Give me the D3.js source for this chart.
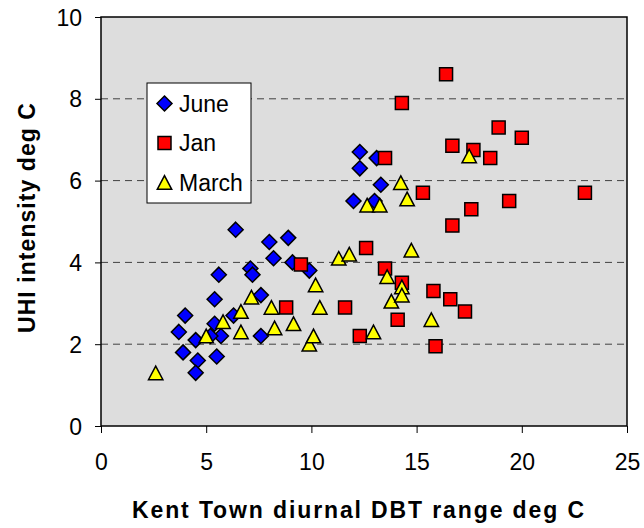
<!DOCTYPE html>
<html>
<head>
<meta charset="utf-8">
<script src="https://cdn.jsdelivr.net/npm/d3@7"></script>
<style>
  body { margin: 0; background: #fff; }
  text { font-family: "Liberation Sans", Arial, sans-serif; }
</style>
</head>
<body>
<div id="chart"></div>
<script>
// values
const juneX = [4.0, 3.7, 3.9, 4.5, 4.6, 4.5, 5.4, 5.6, 5.4, 5.5, 5.7, 5.2, 6.3, 6.4, 7.1, 7.2, 7.6, 7.6, 8.0, 8.2, 8.9, 9.1, 9.9, 12.3, 12.3, 12.0, 13.3, 13.0, 13.1];
const juneY = [2.7, 2.3, 1.8, 2.1, 1.6, 1.3, 3.1, 3.7, 2.5, 1.7, 2.2, 2.2, 2.7, 4.8, 3.85, 3.7, 3.2, 2.2, 4.5, 4.1, 4.6, 4.0, 3.8, 6.7, 6.3, 5.5, 5.9, 5.5, 6.55];

const janX = [16.4, 14.3, 18.9, 20.0, 16.7, 17.7, 18.5, 13.5, 15.3, 23.0, 19.4, 17.6, 16.7, 12.6, 9.5, 13.5, 14.3, 15.8, 16.6, 8.8, 11.6, 17.3, 14.1, 12.3, 15.9];
const janY = [8.6, 7.9, 7.3, 7.05, 6.85, 6.75, 6.55, 6.55, 5.7, 5.7, 5.5, 5.3, 4.9, 4.35, 3.95, 3.85, 3.5, 3.3, 3.1, 2.9, 2.9, 2.8, 2.6, 2.2, 1.95];

const marchX = [2.6, 5.0, 5.8, 6.65, 6.65, 7.15, 8.1, 8.25, 9.15, 9.9, 10.1, 10.2, 10.4, 11.3, 11.8, 12.65, 13.25, 12.95, 13.6, 13.8, 14.3, 14.3, 14.25, 14.55, 14.75, 15.7, 17.5];
const marchY = [1.3, 2.2, 2.55, 2.8, 2.3, 3.15, 2.9, 2.4, 2.5, 2.0, 2.2, 3.45, 2.9, 4.1, 4.2, 5.4, 5.4, 2.3, 3.65, 3.05, 3.4, 3.2, 5.95, 5.55, 4.3, 2.6, 6.6];

const seriesNames = ["June", "Jan", "March"];
const xTicks = [0, 5, 10, 15, 20, 25];
const yTicks = [0, 2, 4, 6, 8, 10];

// marker shapes drawn about their box centre, like the spreadsheet ones
const diamond = { draw(ctx) { const r = 7.5; ctx.moveTo(0, -r); ctx.lineTo(r, 0); ctx.lineTo(0, r); ctx.lineTo(-r, 0); ctx.closePath(); } };
const square = { draw(ctx) { const r = 6.5; ctx.rect(-r, -r, 2 * r, 2 * r); } };
const triangle = { draw(ctx) { const w = 7.2, h = 6.8; ctx.moveTo(0, -h); ctx.lineTo(w, h); ctx.lineTo(-w, h); ctx.closePath(); } };

const series = [
  { name: seriesNames[0], xs: juneX, ys: juneY, fill: "#0000ff", symbol: diamond },
  { name: seriesNames[1], xs: janX, ys: janY, fill: "#ff0000", symbol: square },
  { name: seriesNames[2], xs: marchX, ys: marchY, fill: "#ffff00", symbol: triangle }
];

const margin = { top: 17, right: 17, bottom: 102, left: 101 },
    width = 644 - margin.left - margin.right,
    height = 528 - margin.top - margin.bottom;

const svg = d3.select("#chart").append("svg")
    .attr("width", 644)
    .attr("height", 528);

const g = svg.append("g")
    .attr("transform", `translate(${margin.left},${margin.top})`);

const x = d3.scaleLinear().domain([0, 25]).range([0, width]);
const y = d3.scaleLinear().domain([0, 10]).range([height, 0]);

g.append("rect")
    .attr("width", width)
    .attr("height", height)
    .attr("fill", "#dddddd");

// dashed gridlines
g.selectAll(".grid")
    .data(yTicks.filter(d => d > 0 && d < 10))
    .enter().append("line")
    .attr("x1", 0)
    .attr("x2", width)
    .attr("y1", d => y(d))
    .attr("y2", d => y(d))
    .attr("stroke", "#404040")
    .attr("stroke-width", 1)
    .attr("stroke-dasharray", "7,5");

const xAxis = g.append("g")
    .attr("transform", `translate(0,${height})`)
    .call(d3.axisBottom(x).tickValues(xTicks).tickSize(7).tickPadding(21));

const yAxis = g.append("g")
    .call(d3.axisLeft(y).tickValues(yTicks).tickSize(6).tickPadding(13));

[xAxis, yAxis].forEach(ax => {
    ax.select(".domain").remove();
    ax.selectAll("line").attr("stroke", "#000");
    ax.selectAll("text")
        .attr("fill", "#000")
        .style("font-size", "23px")
        .style("font-family", "'Liberation Sans', Arial, sans-serif");
});
yAxis.selectAll("text").attr("dy", "0.35em");
xAxis.selectAll("text").attr("dy", "0.71em");

// frame
g.append("rect")
    .attr("width", width)
    .attr("height", height)
    .attr("fill", "none")
    .attr("stroke", "#000")
    .attr("stroke-width", 1.5);

// points
series.forEach(s => {
    g.append("g").selectAll("path")
        .data(s.xs.map((v, i) => [v, s.ys[i]]))
        .enter().append("path")
        .attr("transform", d => `translate(${x(d[0])},${y(d[1])})`)
        .attr("d", d3.symbol().type(s.symbol))
        .attr("fill", s.fill)
        .attr("stroke", "#000")
        .attr("stroke-width", 1.5);
});

// legend
const legend = g.append("g")
    .attr("transform", `translate(${147 - margin.left},${83 - margin.top})`);

legend.append("rect")
    .attr("width", 104)
    .attr("height", 120)
    .attr("fill", "#fff")
    .attr("stroke", "#000")
    .attr("stroke-width", 1);

series.forEach((s, i) => {
    const row = legend.append("g")
        .attr("transform", `translate(17.5,${20.5 + i * 39.5})`);
    row.append("path")
        .attr("d", d3.symbol().type(s.symbol))
        .attr("fill", s.fill)
        .attr("stroke", "#000")
        .attr("stroke-width", 1.5);
    row.append("text")
        .attr("x", 14.5)
        .attr("dy", "0.36em")
        .style("font-size", "23px")
        .text(s.name);
});

// axis titles
svg.append("text")
    .attr("x", 132)
    .attr("y", 518)
    .attr("textLength", 452)
    .attr("lengthAdjust", "spacing")
    .style("font-size", "23px")
    .style("font-weight", "bold")
    .text("Kent Town diurnal DBT range deg C");

svg.append("text")
    .attr("transform", `translate(35,333) rotate(-90)`)
    .attr("textLength", 230)
    .attr("lengthAdjust", "spacing")
    .style("font-size", "23px")
    .style("font-weight", "bold")
    .text("UHI intensity deg C");
</script>
</body>
</html>
